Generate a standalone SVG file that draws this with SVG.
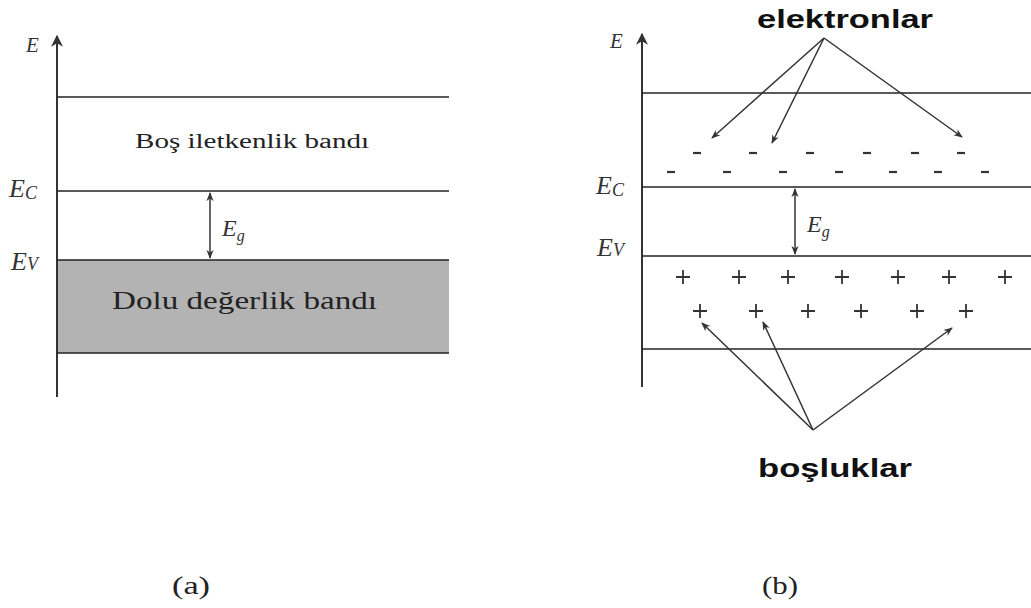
<svg xmlns="http://www.w3.org/2000/svg" width="1031" height="608" viewBox="0 0 1031 608">
<style>
.ln{stroke:#222;stroke-width:1.5;fill:none}
.ax{stroke:#333;stroke-width:2;fill:none}
.ar{stroke:#333;stroke-width:1.5;fill:none}
.it{font-family:"Liberation Serif",serif;font-style:italic;fill:#333}
.bl{font-family:"Liberation Sans",Arial,sans-serif;font-weight:bold;font-size:26px;fill:#111}
.sr{font-family:"Liberation Serif",serif;fill:#222}
.dash{stroke:#333;stroke-width:2.2}
.plus{stroke:#333;stroke-width:1.8}
</style>
<defs>
<marker id="ah" viewBox="0 0 10 10" refX="9" refY="5" markerWidth="9" markerHeight="9" markerUnits="userSpaceOnUse" orient="auto-start-reverse">
<path d="M0,1 L10,5 L0,9 L3,5 Z" fill="#333"/>
</marker>
<marker id="axh" viewBox="0 0 10 10" refX="9" refY="5" markerWidth="16" markerHeight="12" markerUnits="userSpaceOnUse" orient="auto">
<path d="M0,0 L10,5 L0,10 L3,5 Z" fill="#333"/>
</marker>
</defs>

<g id="panel-a">
<rect x="57" y="260" width="392" height="93" fill="#b3b3b3"/>
<line class="ax" x1="57" y1="397" x2="57" y2="36" marker-end="url(#axh)"/>
<line class="ln" x1="57" y1="97" x2="449" y2="97"/>
<line class="ln" x1="57" y1="191" x2="449" y2="191"/>
<line class="ln" x1="57" y1="260" x2="449" y2="260"/>
<line class="ln" x1="57" y1="353" x2="449" y2="353"/>
<line class="ar" x1="210" y1="193" x2="210" y2="258" marker-start="url(#ah)" marker-end="url(#ah)"/>
<text class="it" x="26" y="52" font-size="21">E</text>
<text class="it" x="9" y="197" font-size="26">E<tspan font-size="18" dy="2">C</tspan></text>
<text class="it" x="11" y="270" font-size="26">E<tspan font-size="18">V</tspan></text>
<text class="it" x="222" y="236" font-size="24">E<tspan font-size="16" dy="5">g</tspan></text>
<text class="sr" x="135" y="148" font-size="20" textLength="234" lengthAdjust="spacingAndGlyphs">Boş iletkenlik bandı</text>
<text class="sr" x="112" y="309" font-size="26" textLength="265" lengthAdjust="spacingAndGlyphs">Dolu değerlik bandı</text>
<text class="sr" x="172" y="594" font-size="25" textLength="38" lengthAdjust="spacingAndGlyphs">(a)</text>
</g>

<g id="panel-b">
<line class="ax" x1="642" y1="387" x2="642" y2="34" marker-end="url(#axh)"/>
<line class="ln" x1="642" y1="93" x2="1031" y2="93"/>
<line class="ln" x1="642" y1="187" x2="1031" y2="187"/>
<line class="ln" x1="642" y1="256" x2="1031" y2="256"/>
<line class="ln" x1="642" y1="349" x2="1031" y2="349"/>
<line class="ar" x1="795" y1="189" x2="795" y2="254" marker-start="url(#ah)" marker-end="url(#ah)"/>
<text class="it" x="610" y="48" font-size="21">E</text>
<text class="it" x="596" y="194" font-size="26">E<tspan font-size="18" dy="2">C</tspan></text>
<text class="it" x="597" y="256" font-size="26">E<tspan font-size="18">V</tspan></text>
<text class="it" x="807" y="232" font-size="24">E<tspan font-size="16" dy="5">g</tspan></text>
<text class="sr" x="762" y="594" font-size="25" textLength="36" lengthAdjust="spacingAndGlyphs">(b)</text>
</g>

<g id="electrons">
<g class="dash">
<line x1="693" y1="153" x2="701" y2="153"/>
<line x1="749" y1="153" x2="757" y2="153"/>
<line x1="806" y1="153" x2="814" y2="153"/>
<line x1="863" y1="153" x2="871" y2="153"/>
<line x1="911" y1="153" x2="919" y2="153"/>
<line x1="957" y1="153" x2="965" y2="153"/>
<line x1="667" y1="172" x2="675" y2="172"/>
<line x1="723" y1="172" x2="731" y2="172"/>
<line x1="779" y1="172" x2="787" y2="172"/>
<line x1="835" y1="172" x2="843" y2="172"/>
<line x1="889" y1="172" x2="897" y2="172"/>
<line x1="934" y1="172" x2="942" y2="172"/>
<line x1="981" y1="172" x2="989" y2="172"/>
</g>
<text class="bl" x="757" y="28" textLength="176" lengthAdjust="spacingAndGlyphs">elektronlar</text>
</g>

<g id="holes">
<g class="plus">
<path d="M676,277h14M683,270v14"/>
<path d="M732,277h14M739,270v14"/>
<path d="M781,277h14M788,270v14"/>
<path d="M835,277h14M842,270v14"/>
<path d="M891,277h14M898,270v14"/>
<path d="M942,277h14M949,270v14"/>
<path d="M998,277h14M1005,270v14"/>
<path d="M693,311h14M700,304v14"/>
<path d="M749,311h14M756,304v14"/>
<path d="M801,311h14M808,304v14"/>
<path d="M854,311h14M861,304v14"/>
<path d="M910,311h14M917,304v14"/>
<path d="M959,311h14M966,304v14"/>
</g>
<text class="bl" x="758" y="477" textLength="154" lengthAdjust="spacingAndGlyphs">boşluklar</text>
</g>

<g id="connectors">
<line class="ar" x1="824" y1="38" x2="712" y2="138" marker-end="url(#ah)"/>
<line class="ar" x1="824" y1="38" x2="772" y2="143" marker-end="url(#ah)"/>
<line class="ar" x1="824" y1="38" x2="962" y2="137" marker-end="url(#ah)"/>
<line class="ar" x1="813" y1="430" x2="702" y2="323" marker-end="url(#ah)"/>
<line class="ar" x1="813" y1="430" x2="763" y2="322" marker-end="url(#ah)"/>
<line class="ar" x1="813" y1="430" x2="952" y2="328" marker-end="url(#ah)"/>
</g>
</svg>
